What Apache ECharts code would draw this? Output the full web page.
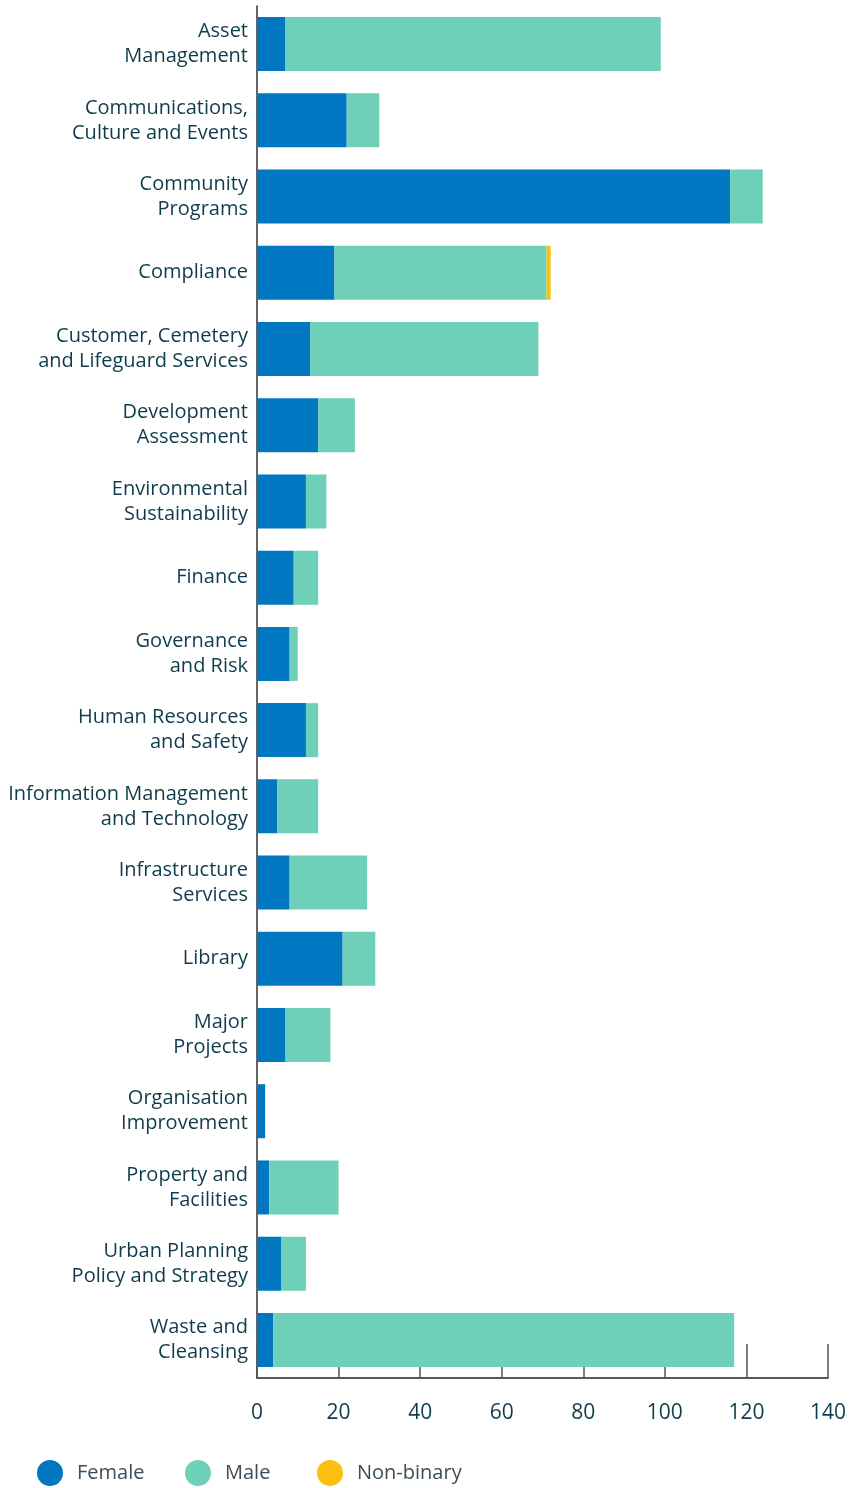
<!DOCTYPE html>
<html>
<head>
<meta charset="utf-8">
<script src="https://cdn.jsdelivr.net/npm/echarts@6/dist/echarts.min.js"></script>
<style>
html,body{margin:0;padding:0;background:#fff;}
#chart{width:864px;height:1488px;}
</style>
</head>
<body>
<div id="chart"></div>
<script>
// categories, top to bottom
var categories = [
    'Asset\nManagement',
    'Communications,\nCulture and Events',
    'Community\nPrograms',
    'Compliance',
    'Customer, Cemetery\nand Lifeguard Services',
    'Development\nAssessment',
    'Environmental\nSustainability',
    'Finance',
    'Governance\nand Risk',
    'Human Resources\nand Safety',
    'Information Management\nand Technology',
    'Infrastructure\nServices',
    'Library',
    'Major\nProjects',
    'Organisation\nImprovement',
    'Property and\nFacilities',
    'Urban Planning\nPolicy and Strategy',
    'Waste and\nCleansing'
];
var female    = [7, 22, 116, 19, 13, 15, 12, 9, 8, 12, 5, 8, 21, 7, 2, 3, 6, 4];
var male      = [92, 8, 8, 52, 56, 9, 5, 6, 2, 3, 10, 19, 8, 11, 0, 17, 6, 113];
var nonBinary = [0, 0, 0, 1, 0, 0, 0, 0, 0, 0, 0, 0, 0, 0, 0, 0, 0, 0];
var xTicks = [0, 20, 40, 60, 80, 100, 120, 140];
var seriesNames = ['Female', 'Male', 'Non-binary'];

var colors = {female:'#0077c0', male:'#6fd0b9', nb:'#fbbf12'};
var textColor = '#0f3c4c';

function barSeries(name, data, color){
    return {
        name: name,
        type: 'bar',
        stack: 'total',
        barWidth: 54,
        itemStyle: {color: color},
        emphasis: {disabled: true},
        data: data
    };
}

// one legend per item so each sits where the reference puts it
function legendItem(name, left){
    return {
        left: left,
        top: 1455,
        icon: 'circle',
        itemWidth: 34,
        itemHeight: 26,
        textStyle: {color: '#3b4d58', fontSize: 20, fontFamily: 'Open Sans', padding: [0, 0, 0, 5]},
        data: [name]
    };
}

var option = {
    animation: false,
    textStyle: {fontFamily: 'Open Sans'},
    grid: {left: 257, right: 36, top: 6, bottom: 110, containLabel: false},
    legend: [
        legendItem(seriesNames[0], 32),
        legendItem(seriesNames[1], 180),
        legendItem(seriesNames[2], 312)
    ],
    xAxis: {
        type: 'value',
        min: xTicks[0],
        max: xTicks[xTicks.length - 1],
        interval: 20,
        splitLine: {show: false},
        axisLine: {show: true, lineStyle: {color: '#222', width: 1.5}},
        axisTick: {show: true, inside: true, length: 34, lineStyle: {color: '#555', width: 1.5}},
        axisLabel: {color: textColor, fontSize: 21, margin: 25, fontFamily: 'Open Sans'}
    },
    yAxis: {
        type: 'category',
        inverse: true,
        data: categories,
        axisLine: {show: true, lineStyle: {color: '#333', width: 1.5}},
        axisTick: {show: false},
        axisLabel: {color: textColor, fontSize: 20, lineHeight: 25, margin: 9, align: 'right', fontFamily: 'Open Sans'}
    },
    series: [
        barSeries(seriesNames[0], female, colors.female),
        barSeries(seriesNames[1], male, colors.male),
        barSeries(seriesNames[2], nonBinary, colors.nb)
    ]
};

var myChart = echarts.init(document.getElementById('chart'));
myChart.setOption(option);
</script>
</body>
</html>
